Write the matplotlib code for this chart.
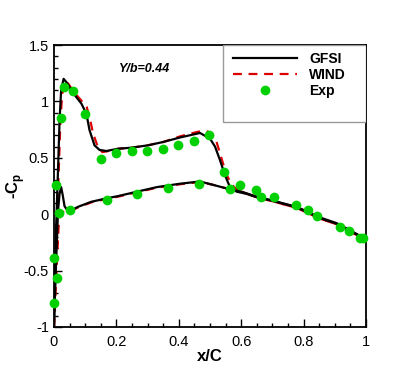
import numpy as np
import matplotlib
matplotlib.use("Agg")
import matplotlib.pyplot as plt
from matplotlib.ticker import MultipleLocator, FuncFormatter
from matplotlib.patches import Rectangle

plt.rcParams['font.family'] = ['Liberation Sans', 'DejaVu Sans']
plt.rcParams['axes.unicode_minus'] = False
plt.rcParams['mathtext.fontset'] = 'custom'
plt.rcParams['mathtext.rm'] = 'Liberation Sans:bold'
plt.rcParams['mathtext.bf'] = 'Liberation Sans:bold'

# GFSI (solid black), upper and lower surfaces
gfsi_up_x = [0, 0.003, 0.007, 0.013, 0.018, 0.023, 0.031, 0.04, 0.06, 0.088, 0.104, 0.114, 0.13,
             0.146, 0.168, 0.205, 0.25, 0.3, 0.35, 0.404, 0.468, 0.5, 0.516, 0.532, 0.548, 0.564,
             0.585, 0.617, 0.65, 0.7, 0.778, 0.853, 0.906, 0.938, 0.986, 1.0]
gfsi_up_y = [-1.0, -0.6, -0.11, 0.39, 0.83, 1.10, 1.20, 1.17, 1.08, 0.98, 0.89, 0.745, 0.61,
             0.57, 0.56, 0.58, 0.59, 0.61, 0.64, 0.68, 0.72, 0.67, 0.60, 0.48, 0.345, 0.24,
             0.20, 0.18, 0.15, 0.12, 0.065, -0.03, -0.08, -0.127, -0.2, -0.22]
gfsi_lo_x = [0, 0.006, 0.013, 0.018, 0.023, 0.028, 0.034, 0.047, 0.077, 0.12, 0.168, 0.205,
             0.267, 0.33, 0.404, 0.468, 0.51, 0.564, 0.6, 0.65, 0.7, 0.778, 0.853, 0.906,
             0.938, 0.986, 1.0]
gfsi_lo_y = [-1.0, -0.5, 0.03, 0.18, 0.24, 0.17, 0.07, 0.02, 0.065, 0.11, 0.14, 0.16,
             0.2, 0.24, 0.27, 0.29, 0.26, 0.22, 0.2, 0.155, 0.12, 0.06, -0.035, -0.085,
             -0.13, -0.205, -0.225]

# WIND (red dashed)
wind_up_x = [0, 0.004, 0.009, 0.015, 0.02, 0.026, 0.035, 0.045, 0.065, 0.09, 0.105, 0.115,
             0.125, 0.14, 0.155, 0.175, 0.205, 0.25, 0.3, 0.35, 0.404, 0.46, 0.484, 0.505,
             0.52, 0.532, 0.545, 0.555, 0.57, 0.59, 0.62, 0.65, 0.7, 0.778, 0.853, 0.906,
             0.938, 0.986, 1.0]
wind_up_y = [-1.0, -0.6, -0.15, 0.35, 0.78, 1.06, 1.18, 1.16, 1.08, 1.0, 0.95, 0.85,
             0.72, 0.60, 0.55, 0.56, 0.58, 0.59, 0.61, 0.64, 0.69, 0.73, 0.74, 0.72,
             0.65, 0.54, 0.42, 0.34, 0.26, 0.21, 0.18, 0.15, 0.115, 0.055, -0.04, -0.09,
             -0.135, -0.21, -0.23]
wind_lo_x = [0, 0.005, 0.01, 0.015, 0.02, 0.03, 0.047, 0.077, 0.12, 0.168, 0.205, 0.267,
             0.33, 0.404, 0.468, 0.51, 0.564, 0.6, 0.65, 0.7, 0.778, 0.853, 0.906, 0.938,
             0.986, 1.0]
wind_lo_y = [-1.0, -0.7, -0.4, -0.1, 0.0, 0.02, 0.02, 0.06, 0.105, 0.135, 0.155, 0.195,
             0.235, 0.265, 0.285, 0.26, 0.22, 0.2, 0.15, 0.115, 0.055, -0.04, -0.09, -0.135,
             -0.21, -0.23]

# experiment
exp_x = [0.001, 0.009, 0.001, 0.005, 0.015, 0.021, 0.033, 0.06, 0.099, 0.15, 0.199, 0.249,
         0.299, 0.348, 0.399, 0.448, 0.498, 0.546, 0.596, 0.646, 0.706, 0.776, 0.844, 0.944,
         0.99, 0.051, 0.169, 0.267, 0.365, 0.466, 0.564, 0.663, 0.813, 0.915, 0.981]
exp_y = [-0.79, -0.57, -0.39, 0.26, 0.01, 0.85, 1.13, 1.09, 0.89, 0.49, 0.54, 0.56,
         0.56, 0.58, 0.61, 0.65, 0.70, 0.375, 0.26, 0.21, 0.15, 0.077, -0.012, -0.15,
         -0.215, 0.04, 0.124, 0.18, 0.23, 0.266, 0.22, 0.15, 0.033, -0.11, -0.215]

fig = plt.figure(figsize=(4.15, 3.69), dpi=100)
ax = fig.add_axes([0.130, 0.114, 0.752, 0.764])

red = '#dd0000'
green = '#00d000'
ax.plot(gfsi_up_x, gfsi_up_y, color='black', lw=1.6, label='GFSI', zorder=3)
ax.plot(gfsi_lo_x, gfsi_lo_y, color='black', lw=1.6, zorder=3)
ax.plot(wind_up_x, wind_up_y, color=red, lw=1.6, dashes=(4, 3), label='WIND', zorder=2)
ax.plot(wind_lo_x, wind_lo_y, color=red, lw=1.6, dashes=(4, 3), zorder=2)
ax.plot(exp_x, exp_y, 'o', color=green, markersize=7, mec='none', label='Exp', zorder=4,
        clip_on=False)

ax.set_xlim(0, 1)
ax.set_ylim(-1, 1.5)
ax.xaxis.set_major_locator(MultipleLocator(0.2))
ax.xaxis.set_minor_locator(MultipleLocator(0.05))
ax.yaxis.set_major_locator(MultipleLocator(0.5))
ax.yaxis.set_minor_locator(MultipleLocator(0.1))
fmt = FuncFormatter(lambda v, p: '%g' % round(v, 3))
ax.xaxis.set_major_formatter(fmt)
ax.yaxis.set_major_formatter(fmt)
ax.tick_params(which='both', direction='in', labelsize=10.5, width=1, top=False, right=False)
ax.tick_params(which='major', length=6)
ax.tick_params(which='minor', length=3)
ax.tick_params(axis='x', pad=6)
for s in ax.spines.values():
    s.set_linewidth(1.3)

ax.set_xlabel('x/C', fontsize=12, fontweight='bold', labelpad=0)
ax.set_ylabel(r'-C$_\mathregular{p}$', fontsize=12, fontweight='bold')
ax.yaxis.set_label_coords(-0.085, 0.5)

ax.text(0.29, 1.29, 'Y/b=0.44', fontsize=9, fontweight='bold', style='italic',
        ha='center', va='center')

ax.add_patch(Rectangle((0.542, 0.727), 0.458, 0.273, transform=ax.transAxes,
                       facecolor='white', edgecolor='#999999', lw=1, zorder=5))
leg = ax.legend(loc='upper left', bbox_to_anchor=(0.565, 0.985), frameon=False,
                prop={'weight': 'bold', 'size': 10}, handlelength=4.6,
                handletextpad=0.9, labelspacing=0.15, borderaxespad=0, borderpad=0.2)
leg.set_zorder(6)

fig.savefig('out.png', dpi=100)
